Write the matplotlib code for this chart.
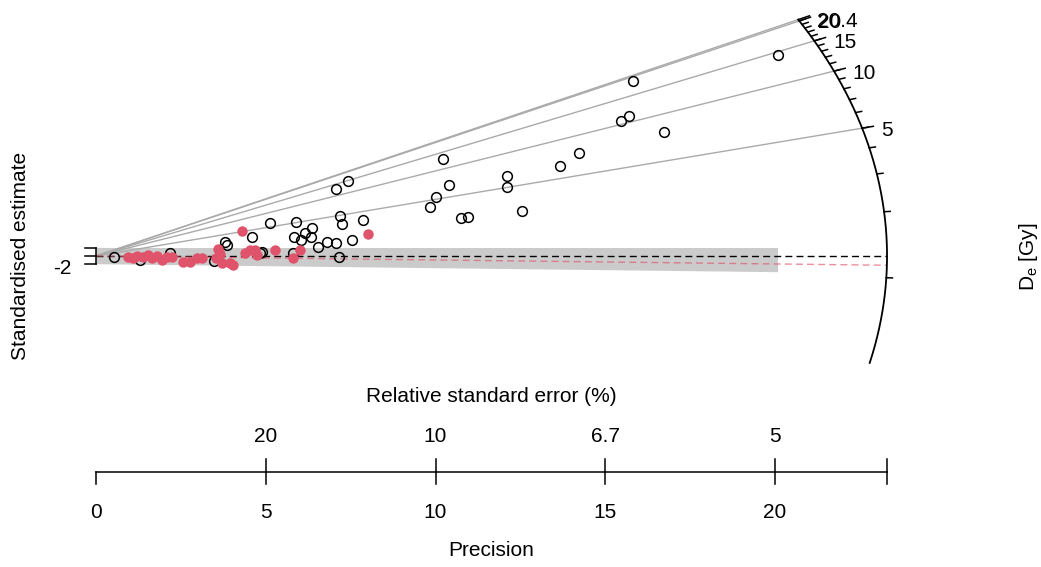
import numpy as np
import matplotlib
matplotlib.use("Agg")
import matplotlib.pyplot as plt
from matplotlib import transforms

plt.rcParams["font.family"] = ["Liberation Sans", "DejaVu Sans"]
plt.rcParams["font.size"] = 15

# ---- data: precision (1/se) and standardised estimate for two groups ----
prec_1 = [0.53, 1.30, 2.18, 3.48, 3.80, 3.86, 4.59, 4.83, 4.89, 5.13, 5.80, 5.89,
          5.83, 6.04, 6.16, 6.33, 6.36, 6.54, 6.80, 7.07, 7.16, 7.19, 7.25, 7.07,
          7.42, 7.54, 7.86, 10.22, 10.40, 10.01, 9.84, 10.75, 10.96, 12.11, 12.11,
          12.55, 13.67, 14.23, 15.46, 15.70, 15.82, 16.73, 20.09]
z_1 = [-0.24, -0.98, 0.73, -1.22, 3.41, 2.68, 4.63, 0.73, 0.98, 8.05, 0.73, 8.29,
       4.63, 3.90, 5.61, 4.63, 6.83, 2.20, 3.41, 3.17, -0.24, 9.76, 7.80, 16.34,
       18.29, 3.90, 8.78, 23.66, 17.32, 14.39, 11.95, 9.27, 9.51, 19.51, 16.83,
       10.98, 21.95, 25.12, 32.93, 34.15, 42.68, 30.24, 49.02]

prec_2 = [0.94, 1.09, 1.21, 1.38, 1.53, 1.65, 1.80, 1.94, 2.09, 2.24, 2.56, 2.77,
          2.97, 3.12, 3.53, 3.59, 3.65, 3.71, 3.95, 4.04, 4.30, 4.39, 4.54, 4.68,
          4.74, 5.27, 5.80, 6.01, 8.01]
z_2 = [-0.24, -0.49, 0.00, -0.24, 0.24, -0.49, 0.00, -0.98, -0.24, -0.24, -1.46,
       -1.46, -0.49, -0.49, -0.49, 1.71, 0.49, -1.71, -1.71, -2.20, 6.10, 0.73,
       1.46, 1.46, 0.24, 1.46, -0.49, 1.46, 5.37]

# central De values [Gy]
de_central_global = 1.256
de_central = [1.256, 1.14]
group_colors = ["black", "#DF536B"]

# De axis (arc)
de_limits = [0.4, 20.4]
de_major = [5, 10, 15, 20, 20.4]
de_major_labels = ["5", "10", "15", "20", "20.4"]
de_minor = list(range(1, 21))

# precision axis and relative standard error labels
precision_ticks = [0, 5, 10, 15, 20]
rse_ticks = [5, 10, 15, 20]
rse_labels = ["20", "10", "6.7", "5"]

radius = 23.3      # precision range / arc radius
f_ratio = 0.186    # arc aspect factor

# ---- figure ----
W, H = 1041, 567
fig = plt.figure(figsize=(W / 100, H / 100), dpi=100)
ax = fig.add_axes([0, 0, 1, 1])
sx, sy = 33.95, 4.1          # pixels per unit
x0, y0 = 96, 256             # origin location in pixels
ax.set_xlim(-x0 / sx, (W - x0) / sx)
ax.set_ylim(-(H - y0) / sy, y0 / sy)
ax.axis("off")


def arc_point(de):
    s = np.log(np.asarray(de, dtype=float) / de_central_global)
    x = radius / np.sqrt(1 + (f_ratio * s) ** 2)
    return x, s * x, s


# +-2 band around each group's central value
x_max = max(max(prec_1), max(prec_2))
for dc in de_central:
    s = np.log(dc / de_central_global)
    ax.fill([0, 0, x_max, x_max], [-2, 2, s * x_max + 2, s * x_max - 2],
            color="#cbcbcb", lw=0, zorder=1)

# radial reference lines to the major De values
for d in de_major:
    xa, ya, _ = arc_point(d)
    ax.plot([0, xa], [0, ya], color="#aaaaaa", lw=1.0, zorder=2)

# central value lines
for dc, col in zip(de_central, group_colors):
    xa, ya, _ = arc_point(dc)
    ax.plot([0, xa], [0, ya], color=col, lw=1.0, ls=(0, (5, 3)),
            alpha=1.0 if col == "black" else 0.65, zorder=3)

# arc
arc_de = np.exp(np.linspace(np.log(de_limits[0]), np.log(de_limits[1]), 400))
xa, ya, _ = arc_point(arc_de)
ax.plot(xa, ya, color="black", lw=1.3, zorder=3)

# arc ticks
for d in de_minor:
    xa, ya, s = arc_point(d)
    ax.plot([xa, xa + 0.18], [ya, s * (xa + 0.18)], color="black", lw=1.1, zorder=3)
for d, lab in zip(de_major, de_major_labels):
    xa, ya, s = arc_point(d)
    ax.plot([xa, xa + 0.33], [ya, s * (xa + 0.33)], color="black", lw=1.1, zorder=3)
    ax.annotate(lab, xy=(xa, ya), xytext=(13.5, -1.5), textcoords="offset points",
                ha="left", va="center", fontsize=15, zorder=4)

# z axis (-2, 0, 2)
ax.plot([0, 0], [-2, 2], color="black", lw=1.1, zorder=3)
for t in [-2, 0, 2]:
    ax.plot([0, -0.32], [t, t], color="black", lw=1.1, zorder=3)
ax.annotate("-2", xy=(0, -2), xytext=(-17.5, -3), textcoords="offset points",
            ha="right", va="center", fontsize=15)

# data points
ax.plot(prec_1, z_1, ls="none", marker="o", ms=7, mfc="none", mec="black",
        mew=1.1, zorder=5)
ax.plot(prec_2, z_2, ls="none", marker="o", ms=7.5, mfc=group_colors[1],
        mec="none", zorder=6)

# precision axis with relative standard error on top
tr = transforms.blended_transform_factory(ax.transData, fig.transFigure)
ya_fig = 1 - 472 / H
tick_dn = 12 / H
tick_up = 13 / H
ax.plot([0, radius], [ya_fig, ya_fig], color="black", lw=1.1, transform=tr,
        clip_on=False)
for t in precision_ticks + [radius]:
    ax.plot([t, t], [ya_fig, ya_fig - tick_dn], color="black", lw=1.1,
            transform=tr, clip_on=False)
for t in precision_ticks:
    ax.text(t, 1 - 512 / H, str(t), ha="center", va="center", transform=tr)
for t in rse_ticks + [radius]:
    ax.plot([t, t], [ya_fig, ya_fig + tick_up], color="black", lw=1.1,
            transform=tr, clip_on=False)
for t, lab in zip(rse_ticks, rse_labels):
    ax.text(t, 1 - 437 / H, lab, ha="center", va="center", transform=tr)

ax.text(radius / 2, 1 - 397 / H, "Relative standard error (%)", ha="center",
        va="center", transform=tr)
ax.text(radius / 2, 1 - 550 / H, "Precision", ha="center", va="center",
        transform=tr)

fig.text(21 / W, 1 - 256 / H, "Standardised estimate", rotation=90,
         ha="center", va="center")
fig.text(1028 / W, 1 - 257 / H, r"D$_\mathregular{e}$ [Gy]", rotation=90,
         ha="center", va="center")

fig.savefig("out.png", dpi=100)
